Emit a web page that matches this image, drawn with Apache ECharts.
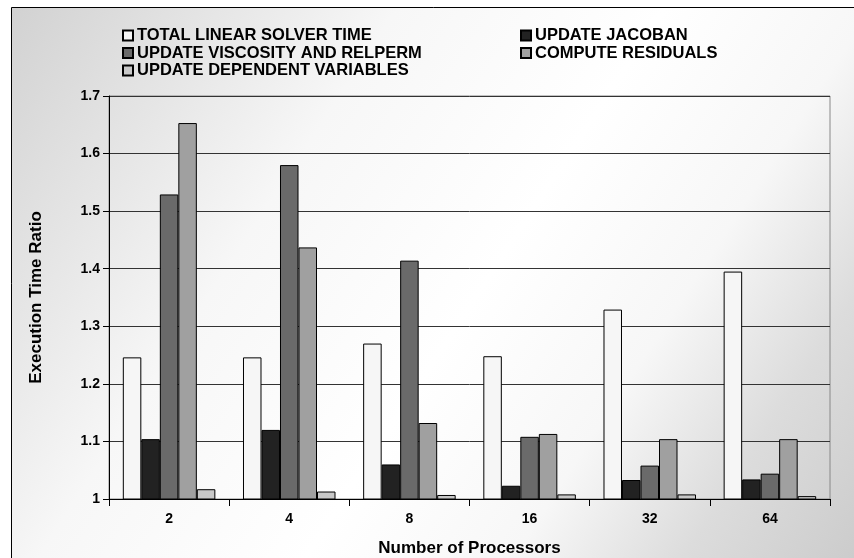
<!DOCTYPE html>
<html>
<head>
<meta charset="utf-8">
<title>Execution Time Ratio</title>
<script src="https://cdn.jsdelivr.net/npm/echarts@6/dist/echarts.min.js"></script>
<style>
  html, body { margin: 0; padding: 0; background: #ffffff; }
  #chart { width: 854px; height: 558px; }
</style>
</head>
<body>
<div id="chart"></div>
<script>
// Processor counts on the x axis
const processors = ['2', '4', '8', '16', '32', '64'];

// Execution time ratio per phase
const totalLinearSolver   = [1.246, 1.246, 1.270, 1.248, 1.329, 1.395];
const updateJacoban       = [1.104, 1.120, 1.060, 1.023, 1.033, 1.034];
const updateViscosity     = [1.529, 1.580, 1.414, 1.108, 1.058, 1.044];
const computeResiduals    = [1.653, 1.437, 1.132, 1.113, 1.104, 1.104];
const updateDependentVars = [1.017, 1.013, 1.007, 1.008, 1.008, 1.005];

// Value axis ticks
const yMin = 1, yMax = 1.7, yStep = 0.1;

const FONT = '"Liberation Sans", Arial, sans-serif';

const seriesDefs = [
  { name: 'TOTAL LINEAR SOLVER TIME',    data: totalLinearSolver,   color: '#f6f6f6' },
  { name: 'UPDATE JACOBAN',              data: updateJacoban,       color: '#222222' },
  { name: 'UPDATE VISCOSITY AND RELPERM', data: updateViscosity,    color: '#6a6a6a' },
  { name: 'COMPUTE RESIDUALS',           data: computeResiduals,    color: '#a0a0a0' },
  { name: 'UPDATE DEPENDENT VARIABLES',  data: updateDependentVars, color: '#c8c8c8' }
];

const chart = echarts.init(document.getElementById('chart'), null, { renderer: 'canvas' });

const legendCommon = {
  orient: 'vertical',
  itemWidth: 10,
  itemHeight: 10,
  itemGap: 0.5,
  icon: 'rect',
  padding: 0,
  textStyle: { fontFamily: FONT, fontSize: 16.5, fontWeight: 'bold', color: '#000', lineHeight: 16, padding: [0, 0, 0, -1] },
  selectedMode: false
};

chart.setOption({
  animation: false,
  backgroundColor: 'transparent',
  textStyle: { fontFamily: FONT },
  graphic: [{
    type: 'rect',
    z: -10,
    silent: true,
    shape: { x: 11.5, y: 7.5, width: 900, height: 600 },
    style: {
      fill: new echarts.graphic.LinearGradient(0, 0, 854, 558, [
        { offset: 0, color: '#d0d0d0' },
        { offset: 0.33, color: '#f7f7f7' },
        { offset: 0.55, color: '#ffffff' },
        { offset: 0.72, color: '#f7f7f7' },
        { offset: 0.86, color: '#dcdcdc' },
        { offset: 1, color: '#cccccc' }
      ], true),
      stroke: '#000',
      lineWidth: 1
    }
  }],
  legend: [
    Object.assign({}, legendCommon, {
      left: 122, top: 27,
      data: ['TOTAL LINEAR SOLVER TIME', 'UPDATE VISCOSITY AND RELPERM', 'UPDATE DEPENDENT VARIABLES']
    }),
    Object.assign({}, legendCommon, {
      left: 520, top: 27,
      data: ['UPDATE JACOBAN', 'COMPUTE RESIDUALS']
    })
  ],
  grid: {
    left: 109, top: 96, right: 24, bottom: 59,
    outerBoundsMode: 'none',
    containLabel: false,
    show: true,
    borderColor: '#888',
    borderWidth: 1,
    backgroundColor: 'transparent'
  },
  xAxis: {
    type: 'category',
    data: processors,
    name: 'Number of Processors',
    nameLocation: 'middle',
    nameGap: 41,
    nameTextStyle: { fontFamily: FONT, fontSize: 17, fontWeight: 'bold', color: '#000' },
    axisLine: { lineStyle: { color: '#000', width: 1 } },
    axisTick: { show: true, length: 7, inside: false, lineStyle: { color: '#000' } },
    axisLabel: { fontFamily: FONT, fontSize: 14, fontWeight: 'bold', color: '#000', margin: 13 },
    splitLine: { show: false }
  },
  yAxis: {
    type: 'value',
    min: yMin,
    max: yMax,
    interval: yStep,
    name: 'Execution Time Ratio',
    nameLocation: 'middle',
    nameGap: 64,
    nameTextStyle: { fontFamily: FONT, fontSize: 17, fontWeight: 'bold', color: '#000' },
    axisLine: { show: true, lineStyle: { color: '#000', width: 1 } },
    axisTick: { show: true, length: 6, lineStyle: { color: '#000' } },
    axisLabel: { fontFamily: FONT, fontSize: 14, fontWeight: 'bold', color: '#000', margin: 9 },
    splitLine: { show: true, lineStyle: { color: '#333', width: 1 } }
  },
  series: seriesDefs.map(s => ({
    name: s.name,
    type: 'bar',
    data: s.data,
    barGap: '0%',
    barCategoryGap: '23%',
    itemStyle: { color: s.color, borderColor: '#000', borderWidth: 1 }
  }))
});
</script>
</body>
</html>
